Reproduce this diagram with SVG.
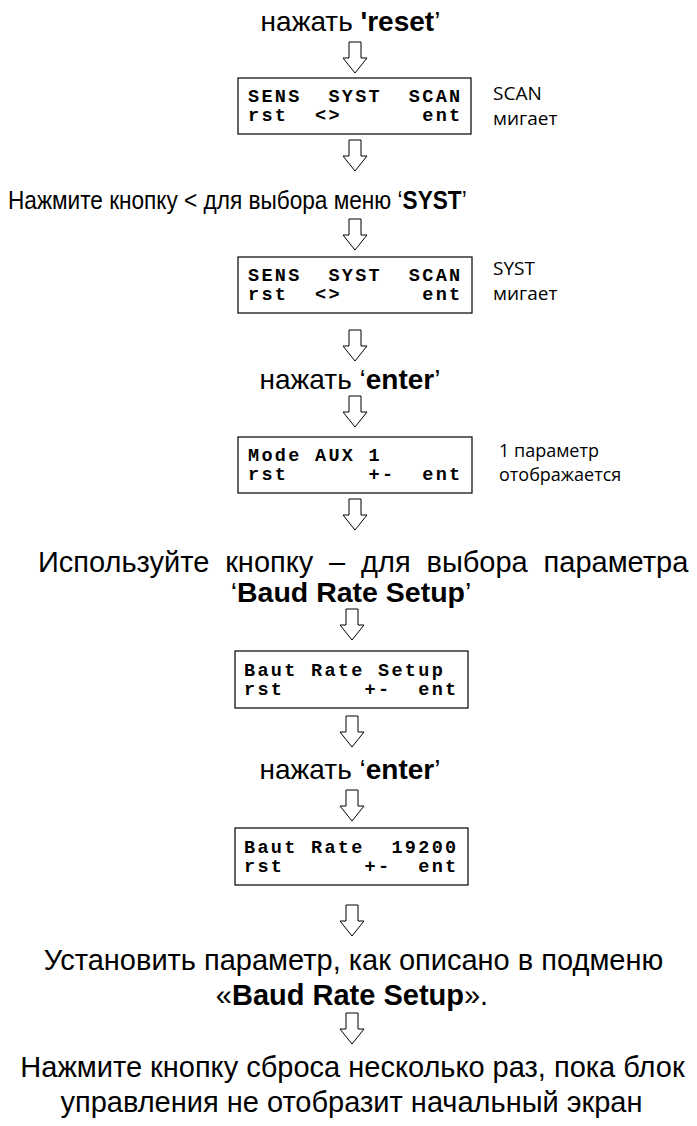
<svg xmlns="http://www.w3.org/2000/svg" width="697" height="1126" viewBox="0 0 697 1126">
<defs>
<style>
.t{font-family:"Liberation Sans",Arial,sans-serif;font-size:29px;fill:#000}
.c{text-anchor:middle}
.b{font-weight:bold}
.m{font-family:"Liberation Mono","Courier New",monospace;font-weight:bold;font-size:18.5px;letter-spacing:2.3px;fill:#000;white-space:pre}
.s{font-family:"Open Sans","Noto Sans",sans-serif;font-size:19px;fill:#000}
.box{fill:#fff;stroke:#000;stroke-width:1.2}
.ar{fill:#fff;stroke:#000;stroke-width:1}
</style>
<path id="arw" d="M-6,0 h12 v16 h6 l-12,15 l-12,-15 h6 z"/>
</defs>
<rect width="697" height="1126" fill="#fff"/>

<g id="connectors">
<use href="#arw" class="ar" x="355" y="42"/>
<use href="#arw" class="ar" x="355" y="140"/>
<use href="#arw" class="ar" x="355" y="219"/>
<use href="#arw" class="ar" x="355" y="330"/>
<use href="#arw" class="ar" x="355" y="396"/>
<use href="#arw" class="ar" x="355" y="499"/>
<use href="#arw" class="ar" x="352" y="609"/>
<use href="#arw" class="ar" x="352" y="716"/>
<use href="#arw" class="ar" x="352" y="790"/>
<use href="#arw" class="ar" x="352" y="905"/>
<use href="#arw" class="ar" x="352" y="1013"/>
</g>

<g id="step1">
<text class="t c" x="350.5" y="31" style="font-size:28px">нажать <tspan class="b">'reset</tspan>’</text>
</g>

<g id="screen1">
<rect class="box" x="238" y="78" width="233" height="56"/>
<text class="m" x="248" y="102" xml:space="preserve">SENS  SYST  SCAN</text>
<text class="m" x="248" y="121" xml:space="preserve">rst  &lt;&gt;      ent</text>
<text class="s" x="493" y="100">SCAN</text>
<text class="s" x="493" y="125">мигает</text>
</g>

<g id="step2">
<text class="t" transform="translate(8,209) scale(0.87,1)" x="0" y="0" style="font-size:26px">Нажмите кнопку &lt; для выбора меню ‘<tspan class="b">SYST</tspan>’</text>
</g>

<g id="screen2">
<rect class="box" x="238" y="257" width="234" height="56"/>
<text class="m" x="248" y="281" xml:space="preserve">SENS  SYST  SCAN</text>
<text class="m" x="248" y="300" xml:space="preserve">rst  &lt;&gt;      ent</text>
<text class="s" x="493" y="275">SYST</text>
<text class="s" x="493" y="300">мигает</text>
</g>

<g id="step3">
<text class="t c" x="350" y="389" style="font-size:28px">нажать ‘<tspan class="b">enter</tspan>’</text>
</g>

<g id="screen3">
<rect class="box" x="238" y="437" width="234" height="56"/>
<text class="m" x="248" y="461" xml:space="preserve">Mode AUX 1</text>
<text class="m" x="248" y="480" xml:space="preserve">rst      +-  ent</text>
<text class="s" x="499" y="457" style="font-size:18px">1 параметр</text>
<text class="s" x="499" y="481" style="font-size:18px">отображается</text>
</g>

<g id="step4">
<text class="t" x="38" y="572" word-spacing="7.8">Используйте кнопку – для выбора параметра</text>
<text class="t c" x="351" y="602" style="font-size:28.5px">‘<tspan class="b">Baud Rate Setup</tspan>’</text>
</g>

<g id="screen4">
<rect class="box" x="235" y="651" width="233" height="57"/>
<text class="m" x="244" y="676" xml:space="preserve">Baut Rate Setup</text>
<text class="m" x="244" y="695" xml:space="preserve">rst      +-  ent</text>
</g>

<g id="step5">
<text class="t c" x="350" y="779" style="font-size:28px">нажать ‘<tspan class="b">enter</tspan>’</text>
</g>

<g id="screen5">
<rect class="box" x="235" y="828" width="233" height="57"/>
<text class="m" x="244" y="853" xml:space="preserve">Baut Rate  19200</text>
<text class="m" x="244" y="872" xml:space="preserve">rst      +-  ent</text>
</g>

<g id="step6">
<text class="t c" x="353.5" y="970">Установить параметр, как описано в подменю</text>
<text class="t c" x="352" y="1005">«<tspan class="b">Baud Rate Setup</tspan>».</text>
</g>

<g id="step7">
<text class="t c" x="352.5" y="1077">Нажмите кнопку сброса несколько раз, пока блок</text>
<text class="t c" x="351.5" y="1112">управления не отобразит начальный экран</text>
</g>
</svg>
